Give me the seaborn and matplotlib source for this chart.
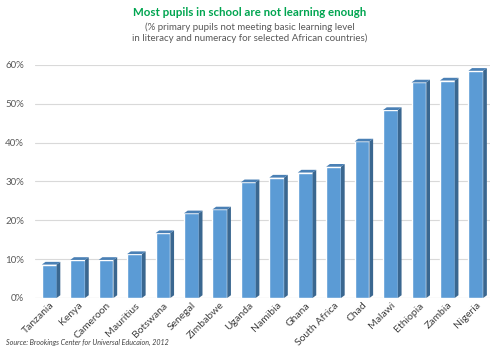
import matplotlib
matplotlib.use("Agg")
import matplotlib.pyplot as plt
import seaborn as sns
import pandas as pd
from matplotlib.patches import Polygon
from matplotlib.ticker import PercentFormatter

countries = ["Tanzania", "Kenya", "Cameroon", "Mauritius", "Botswana", "Senegal",
             "Zimbabwe", "Uganda", "Namibia", "Ghana", "South Africa", "Chad",
             "Malawi", "Ethiopia", "Zambia", "Nigeria"]
pct_not_learning = [0.086, 0.098, 0.098, 0.113, 0.167, 0.218, 0.228, 0.298,
                    0.310, 0.323, 0.338, 0.403, 0.484, 0.555, 0.560, 0.585]

df = pd.DataFrame({"country": countries, "value": pct_not_learning})

sns.set_theme(style="white")
plt.rcParams["font.family"] = ["Lato", "DejaVu Sans"]

fig = plt.figure(figsize=(5, 3.59), dpi=100)
ax = fig.add_axes([0.07, 0.17, 0.91, 0.649])

front = "#5B9BD5"
side = "#3A6790"
top = "#4A80B5"
sns.barplot(data=df, x="country", y="value", color=front, width=0.52,
            saturation=1, ax=ax, zorder=3)

# fake 3d: side and top faces from each bar's own geometry
dx, dy = 0.13, 0.007
for p in list(ax.patches):
    x0, w, h = p.get_x(), p.get_width(), p.get_height()
    x1 = x0 + w
    ax.add_patch(Polygon([(x1, 0), (x1 + dx, dy), (x1 + dx, h + dy), (x1, h)],
                         closed=True, facecolor=side, edgecolor="none",
                         zorder=3, clip_on=False))
    ax.add_patch(Polygon([(x0, h), (x0 + dx, h + dy), (x1 + dx, h + dy), (x1, h)],
                         closed=True, facecolor=top, edgecolor="none",
                         zorder=3, clip_on=False))

ax.set_ylim(0, 0.6)
ax.set_xlim(-0.5, len(countries) - 0.5)
ax.set_yticks([0, 0.1, 0.2, 0.3, 0.4, 0.5, 0.6])
ax.yaxis.set_major_formatter(PercentFormatter(1.0, decimals=0))
ax.grid(axis="y", color="#D9D9D9", linewidth=0.8, zorder=0)
for s in ax.spines.values():
    s.set_visible(False)
ax.axhline(0, color="#D9D9D9", linewidth=0.8, zorder=1)
ax.set_xlabel("")
ax.set_ylabel("")
ax.tick_params(axis="y", labelsize=7, colors="#595959", length=0, pad=8)
ax.tick_params(axis="x", labelsize=7.5, colors="#404040", length=0, pad=2)
plt.setp(ax.get_xticklabels(), rotation=45, ha="right", rotation_mode="anchor")

fig.text(0.5, 0.966, "Most pupils in school are not learning enough",
         ha="center", va="center", fontsize=8.3, fontweight="bold", color="#00A550")
fig.text(0.5, 0.909, "(% primary pupils not meeting basic learning level\n"
         "in literacy and numeracy for selected African countries)",
         ha="center", va="center", fontsize=7, color="#595959", linespacing=1.15)
fig.text(0.012, 0.045, "Source: Brookings Center for Universal Educaion, 2012",
         ha="left", va="center", fontsize=5.1, style="italic", color="#404040")

fig.savefig("out.png", dpi=100)
